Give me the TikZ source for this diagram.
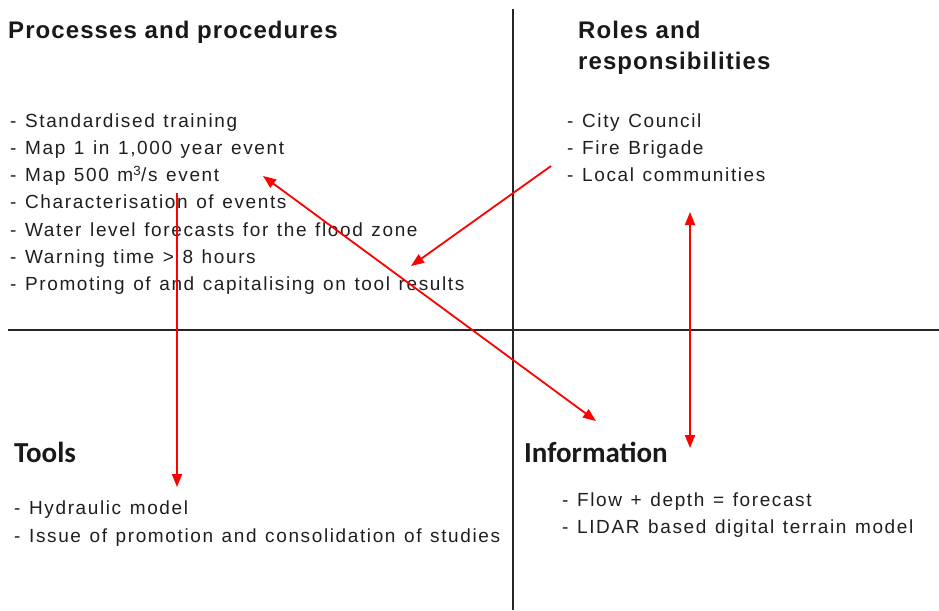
\documentclass[tikz,border=0pt]{standalone}
\usepackage{fontspec}
\setmainfont{Liberation Sans}
\newfontfamily\bodyf[LetterSpace=8.5,WordSpace=1.25]{Liberation Sans}
\newfontfamily\headf[LetterSpace=4.5]{Liberation Sans}
\newfontfamily\calf{Carlito}
\usetikzlibrary{arrows.meta}
\begin{document}
\begin{tikzpicture}[x=1pt,y=-1pt,
  body/.style={anchor=base west, inner sep=0pt, font=\bodyf\fontsize{19}{22}\selectfont, text=black!88},
  head/.style={anchor=base west, inner sep=0pt, font=\headf\bfseries\fontsize{24}{28}\selectfont, text=black!90},
  headc/.style={anchor=base west, inner sep=0pt, font=\calf\bfseries\fontsize{29}{34}\selectfont, text=black!90},
  axis/.style={line width=1.6pt, black!85},
  tip/.tip={Triangle[length=13pt,width=10pt]},
  link/.style={red, line width=1.8pt, -tip},
  link2/.style={red, line width=1.8pt, tip-tip},
]
\useasboundingbox[fill=white] (0,0) rectangle (939,610);
% axes
\coordinate (vt) at (513,9); \coordinate (vb) at (513,610);
\coordinate (hl) at (8,330); \coordinate (hr) at (939,330);
\draw[axis] (vt) -- (vb);
\draw[axis] (hl) -- (hr);
% headings
\node[head] (hpp) at (8,38) {Processes and procedures};
\node[head] (hrr1) at (578,38) {Roles and};
\node[head] (hrr2) at (578,70) {responsibilities};
\node[headc] (htools) at (14,462) {Tools};
\node[headc] (hinfo) at (524,462) {Information};
% lists
\foreach[count=\i from 0] \t in {{- Standardised training},{- Map 1 in 1,000 year event},{- Map 500 m\textsuperscript{3}/s event},{- Characterisation of events},{- Water level forecasts for the flood zone},{- Warning time > 8 hours},{- Promoting of and capitalising on tool results}}
  \node[body] (pp\i) at (10,{127+27.33*\i}) {\t};
\foreach[count=\i from 0] \t in {{- City Council},{- Fire Brigade},{- Local communities}}
  \node[body] (rr\i) at (567,{127+27.33*\i}) {\t};
\foreach[count=\i from 0] \t in {{- Hydraulic model},{- Issue of promotion and consolidation of studies}}
  \node[body] (tl\i) at (14,{514+28*\i}) {\t};
\foreach[count=\i from 0] \t in {{- Flow + depth = forecast},{- LIDAR based digital terrain model}}
  \node[body] (in\i) at (562,{506+27*\i}) {\t};
% arrows
\coordinate (a1s) at (177,193); \coordinate (a1e) at (177,487);
\coordinate (a2s) at (263,176); \coordinate (a2e) at (596,421);
\coordinate (a3s) at (551,166); \coordinate (a3e) at (411,266);
\coordinate (a4s) at (690,212); \coordinate (a4e) at (690,448);
\draw[link] (a1s) -- (a1e);
\draw[link2] (a2s) -- (a2e);
\draw[link] (a3s) -- (a3e);
\draw[link2] (a4s) -- (a4e);
\end{tikzpicture}
\end{document}
